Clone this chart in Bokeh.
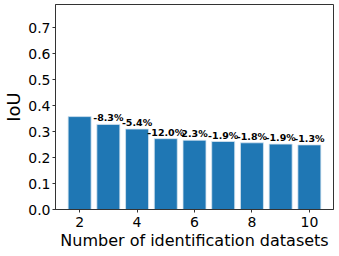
from bokeh.plotting import figure
from bokeh.models import ColumnDataSource, Range1d, FixedTicker, CustomJSTickFormatter
from bokeh.core.properties import value
from bokeh.embed import file_html
from bokeh.resources import INLINE

datasets = [2, 3, 4, 5, 6, 7, 8, 9, 10]
iou = [0.358, 0.328, 0.310, 0.273, 0.267, 0.262, 0.257, 0.252, 0.249]
change_labels = ["-8.3%", "-5.4%", "-12.0%", "2.3%", "-1.9%", "-1.8%", "-1.9%", "-1.3%"]
x_ticks = [2, 4, 6, 8, 10]
y_ticks = [0.0, 0.1, 0.2, 0.3, 0.4, 0.5, 0.6, 0.7]

FONT = "DejaVu Sans"

p = figure(frame_width=278, frame_height=205, output_backend="svg", toolbar_location=None,
           x_range=Range1d(1.16, 10.84), y_range=Range1d(0, 0.79))
p.min_border_left = 45
p.min_border_right = 2
p.min_border_top = 4
p.min_border_bottom = 42

src = ColumnDataSource(dict(x=datasets, top=iou))
p.vbar(x="x", top="top", width=0.8, source=src, fill_color="#1f77b4",
       line_color="#d6e4f0", line_width=0.8)

lab = ColumnDataSource(dict(x=datasets[1:], y=iou[1:], t=change_labels))
p.text(x="x", y="y", text="t", source=lab, text_align="center", text_baseline="bottom",
       y_offset=-1, text_font=value(FONT), text_font_style="bold", text_font_size="9.5px",
       text_color="black")

p.grid.visible = False
p.outline_line_color = "#333333"
p.outline_line_width = 1

for ax in (p.xaxis[0], p.yaxis[0]):
    ax.major_label_text_font = FONT
    ax.major_label_text_font_size = "14px"
    ax.major_label_text_color = "black"
    ax.axis_label_text_font = FONT
    ax.axis_label_text_font_size = "17px"
    ax.axis_label_text_font_style = "normal"
    ax.axis_label_text_color = "black"
    ax.axis_line_color = "#333333"
    ax.major_tick_line_color = "#333333"
    ax.major_tick_out = 3
    ax.major_tick_in = 0
    ax.minor_tick_line_color = None

p.xaxis[0].ticker = FixedTicker(ticks=x_ticks)
p.yaxis[0].ticker = FixedTicker(ticks=y_ticks)
p.yaxis[0].formatter = CustomJSTickFormatter(code="return tick.toFixed(1);")
p.xaxis[0].axis_label = "Number of identification datasets"
p.xaxis[0].axis_label_text_font_size = "16px"
p.yaxis[0].axis_label = "IoU"
p.yaxis[0].axis_label_text_font_size = "18px"
p.xaxis[0].major_label_standoff = 4
p.xaxis[0].axis_label_standoff = 1
p.yaxis[0].major_label_standoff = 2
p.yaxis[0].axis_label_standoff = 1

open("out.html", "w").write(file_html(p, INLINE))
